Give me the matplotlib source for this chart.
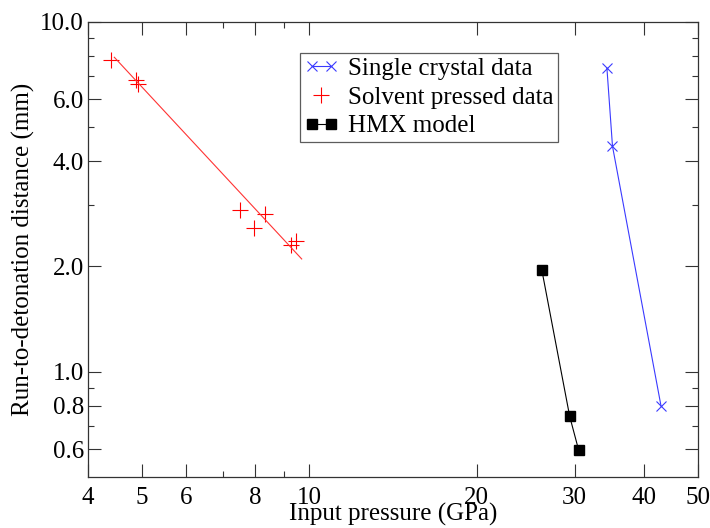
import matplotlib
matplotlib.use("Agg")
import matplotlib.pyplot as plt
from matplotlib.ticker import FixedLocator, FixedFormatter, NullFormatter
from matplotlib.legend_handler import HandlerLine2D

# Single crystal HMX run-to-detonation data
crystal_p = [34.3, 35.1, 42.9]
crystal_d = [7.37, 4.41, 0.80]

# Solvent pressed HMX data
solvent_p = [4.40, 4.88, 4.92, 7.50, 7.96, 8.34, 9.26, 9.46]
solvent_d = [7.78, 6.82, 6.64, 2.89, 2.58, 2.82, 2.30, 2.36]

# Power-law fit through the solvent pressed data
fit_p = [4.46, 9.69]
fit_d = [7.92, 2.10]

# HMX model predictions
model_p = [26.2, 29.4, 30.5]
model_d = [1.95, 0.745, 0.598]

x_major = [4, 5, 6, 8, 10, 20, 30, 40, 50]
x_labels = ["4", "5", "6", "8", "10", "20", "30", "40", "50"]
x_minor = [7, 9]
y_major = [0.6, 0.8, 1.0, 2.0, 4.0, 6.0, 10.0]
y_labels = ["0.6", "0.8", "1.0", "2.0", "4.0", "6.0", "10.0"]
y_minor = [0.7, 0.9, 3.0, 5.0, 7.0, 8.0, 9.0]

plt.rcParams["font.family"] = "serif"
plt.rcParams["font.serif"] = ["Liberation Serif", "DejaVu Serif"]

fig = plt.figure(figsize=(7.10, 5.28), dpi=100)
ax = fig.add_axes([0.124, 0.0966, 0.859, 0.862])

ax.set_xscale("log")
ax.set_yscale("log")

l1, = ax.plot(crystal_p, crystal_d, color="#3a3aff", lw=0.8, marker="x",
              ms=7.5, mew=0.8, label="Single crystal data")
l2, = ax.plot(solvent_p, solvent_d, ls="none", color="#ff0000", marker="+",
              ms=11, mew=0.8, label="Solvent pressed data")
ax.plot(fit_p, fit_d, color="#ff3333", lw=0.8)
l3, = ax.plot(model_p, model_d, color="black", lw=0.8, marker="s",
              ms=6.5, label="HMX model")

ax.set_xlim(4, 50)
ax.set_ylim(0.5, 10)

ax.xaxis.set_major_locator(FixedLocator(x_major))
ax.xaxis.set_major_formatter(FixedFormatter(x_labels))
ax.xaxis.set_minor_locator(FixedLocator(x_minor))
ax.xaxis.set_minor_formatter(NullFormatter())
ax.yaxis.set_major_locator(FixedLocator(y_major))
ax.yaxis.set_major_formatter(FixedFormatter(y_labels))
ax.yaxis.set_minor_locator(FixedLocator(y_minor))
ax.yaxis.set_minor_formatter(NullFormatter())

ax.tick_params(which="both", direction="in", top=True, right=True,
               color="#333333", width=0.8, labelsize=18,
               labelfontfamily="serif")
ax.tick_params(which="major", length=9.5)
ax.tick_params(which="minor", length=4.5)
ax.tick_params(axis="x", which="major", pad=7)
ax.tick_params(axis="y", which="major", pad=3)
for s in ax.spines.values():
    s.set_color("#333333")
    s.set_linewidth(0.9)

ax.set_xlabel("Input pressure (GPa)", fontsize=18, labelpad=-4.5)
ax.set_ylabel("Run-to-detonation distance (mm)", fontsize=18, labelpad=4)

leg = ax.legend(handles=[l1, l2, l3], loc="upper left",
                bbox_to_anchor=(0.3475, 0.932), borderaxespad=0,
                fontsize=18, frameon=True, fancybox=False, numpoints=2,
                handlelength=1.35, handletextpad=0.4, borderpad=0.18,
                labelspacing=0.25,
                handler_map={l2: HandlerLine2D(numpoints=1)})
leg.get_frame().set_edgecolor("#333333")
leg.get_frame().set_linewidth(0.9)

fig.savefig("out.png", dpi=100)
